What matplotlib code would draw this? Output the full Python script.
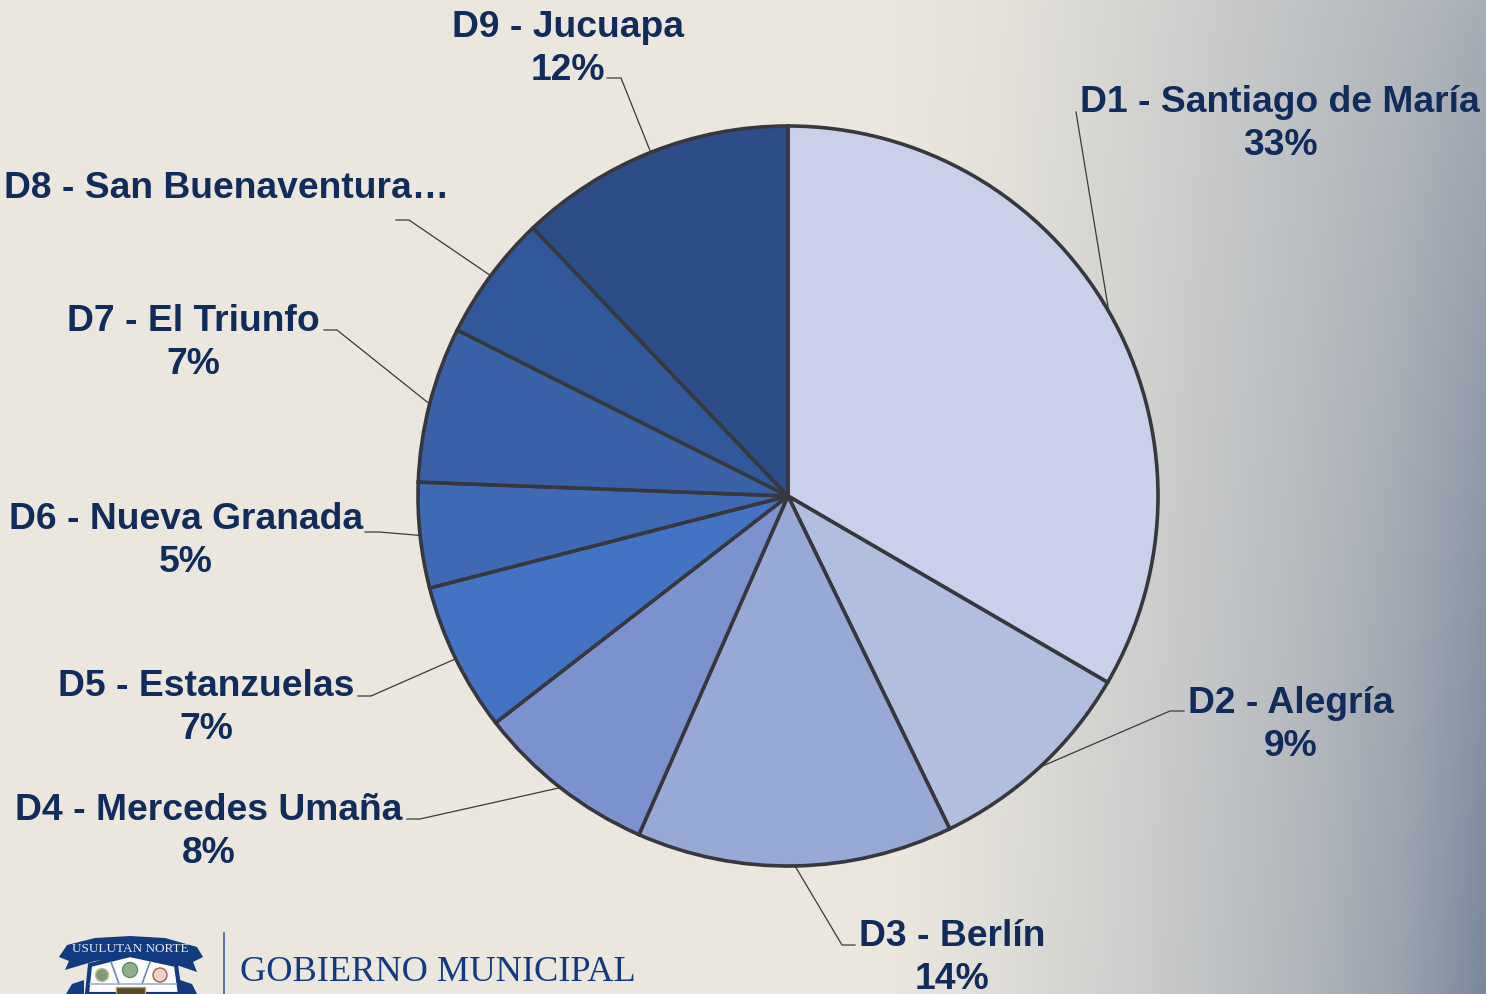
import numpy as np
import matplotlib
matplotlib.use("Agg")
import matplotlib.pyplot as plt
from matplotlib.patches import Polygon, Circle, Rectangle

labels = ["D1 - Santiago de María", "D2 - Alegría", "D3 - Berlín", "D4 - Mercedes Umaña",
          "D5 - Estanzuelas", "D6 - Nueva Granada", "D7 - El Triunfo",
          "D8 - San Buenaventura…", "D9 - Jucuapa"]
percents = ["33%", "9%", "14%", "8%", "7%", "5%", "7%", "", "12%"]
values = [33.4, 9.4, 13.8, 7.9, 6.5, 4.6, 6.8, 5.5, 12.1]
colors = ["#cad0ea", "#b2bede", "#99a9d6", "#7b92cf", "#4472c4",
          "#3f69b5", "#3a61a8", "#31589a", "#2c4d87"]

# label centre (pixels) and the elbow of each leader line
label_pos = [(1280, 124), (1291, 725), (952, 958), (209, 832), (206, 708),
             (186, 541), (193, 343), (227, 189), (568, 49)]
elbows = [[(1076, 112)], [(1170, 711), (1184, 711)], [(842, 945), (855, 945)],
          [(420, 819), (407, 819)], [(371, 696), (358, 696)], [(379, 532), (365, 532)],
          [(337, 330), (324, 330)], [(409, 220), (396, 220)], [(621, 78), (607, 78)]]

W, H = 1486, 994
cx, cy, R = 788, 496, 370
text_color = "#112b5a"
logo_blue = "#123a80"

fig = plt.figure(figsize=(W / 100, H / 100), dpi=100)

# background + overlay in pixel coordinates
bg = fig.add_axes([0, 0, 1, 1])
bg.axis("off")
px = np.arange(W)
top = np.interp(px, [900, 1000, 1200, 1400, 1486], [0, .05, .26, .46, .57])
bot = np.interp(px, [900, 1000, 1150, 1300, 1400, 1486], [0, .10, .28, .49, .69, .96])
v = (np.arange(H) / H)[:, None] ** 0.8
t = top[None, :] * (1 - v) + bot[None, :] * v
base = np.array([235, 231, 223]) / 255
dark = np.array([118, 132, 152]) / 255
img = base[None, None, :] * (1 - t[..., None]) + dark[None, None, :] * t[..., None]
bg.imshow(img, extent=[0, W, H, 0], aspect="auto", zorder=0)
bg.set_xlim(0, W)
bg.set_ylim(H, 0)

ax = fig.add_axes([(cx - R) / W, 1 - (cy + R) / H, 2 * R / W, 2 * R / H])
wedges, _ = ax.pie(values, colors=colors, startangle=90, counterclock=False, radius=1,
                   wedgeprops=dict(edgecolor="#37383d", linewidth=2.6))
ax.set_xlim(-1, 1)
ax.set_ylim(-1, 1)
for w in wedges:
    w.set_clip_on(False)

for w, lab, pct, pos, elbow in zip(wedges, labels, percents, label_pos, elbows):
    mid = np.deg2rad((w.theta1 + w.theta2) / 2)
    start = (cx + R * np.cos(mid), cy - R * np.sin(mid))
    pts = [start] + elbow
    bg.plot([p[0] for p in pts], [p[1] for p in pts], color="#3a3a3a", lw=0.9, zorder=2)
    txt = lab + "\n" + pct if pct else lab
    bg.text(pos[0], pos[1], txt, ha="center", va="center", color=text_color,
            family="Liberation Sans", fontweight="bold", fontsize=26.8, linespacing=1.26, zorder=3)

# logo at the bottom
bg.plot([224, 224], [933, 994], color="#3f5f96", lw=1.2, zorder=2)
bg.text(240, 981, "GOBIERNO MUNICIPAL", family="Liberation Serif", color=logo_blue,
        fontsize=26.2, ha="left", va="baseline", zorder=3)
bg.add_patch(Polygon([(87, 994), (90, 965), (130, 955), (176, 965), (180, 994)],
                     fc="white", ec=logo_blue, lw=3, zorder=2))
bg.add_patch(Polygon([(67, 945), (95, 938), (130, 936), (165, 938), (197, 947), (203, 957), (193, 962),
                      (197, 972), (165, 961), (130, 957), (95, 961), (65, 970), (69, 961), (59, 957)],
                     fc=logo_blue, ec="none", zorder=3))
bg.text(130, 949, "USULUTAN NORTE", family="Liberation Serif", color="#e8ecf5",
        fontsize=9.5, ha="center", va="center", zorder=4)
bg.plot([111, 119], [962, 984], color="#6f86b5", lw=1.2, zorder=3)
bg.plot([150, 142], [962, 984], color="#6f86b5", lw=1.2, zorder=3)
bg.plot([90, 176], [984, 984], color="#9fb0cf", lw=1.2, zorder=3)
bg.add_patch(Circle((102, 975), 6.5, fc="#7d9a7a", ec="#c9b98a", lw=1, zorder=3))
bg.add_patch(Circle((130, 970), 7.5, fc="#8fb08a", ec="#5f8f6a", lw=1, zorder=3))
bg.add_patch(Circle((160, 975), 7, fc="#e8d5c8", ec="#b0584a", lw=1, zorder=3))
bg.add_patch(Rectangle((116, 987), 29, 8, fc="#5a4a2a", ec="#b7a25a", lw=1, zorder=3))
bg.add_patch(Polygon([(66, 994), (72, 984), (84, 980), (84, 994)], fc=logo_blue, ec="none", zorder=2))
bg.add_patch(Polygon([(180, 994), (180, 980), (192, 984), (197, 994)], fc=logo_blue, ec="none", zorder=2))

fig.savefig("out.png", dpi=100)
